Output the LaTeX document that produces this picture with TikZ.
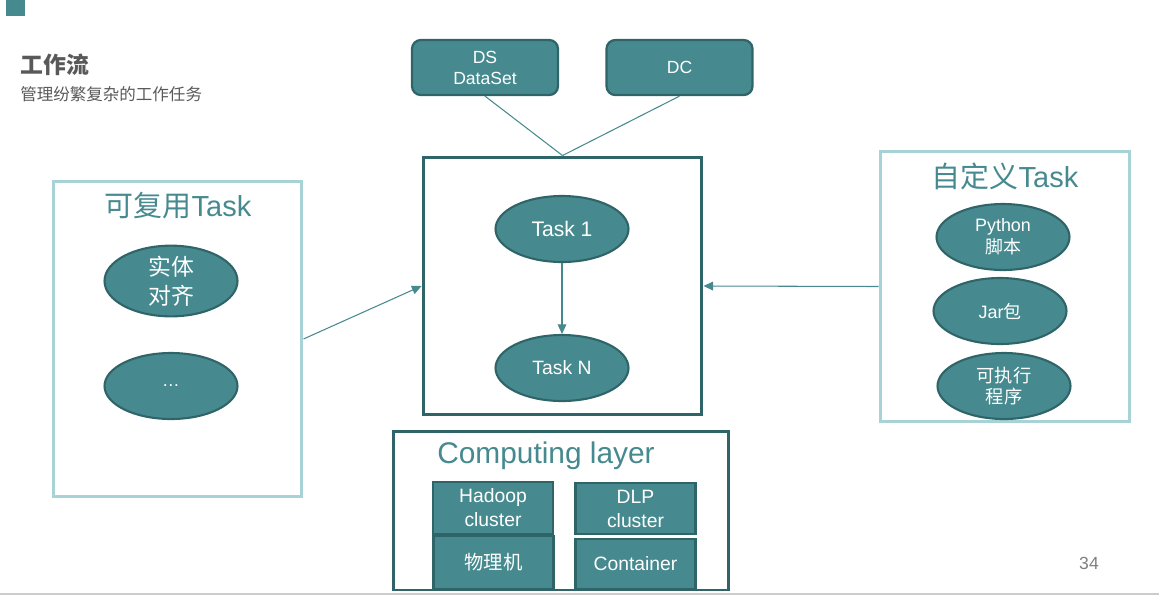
\documentclass[tikz,border=0pt]{standalone}
\usepackage{fontspec}
\setmainfont{Liberation Sans}
\newfontfamily\cjk{Noto Sans CJK SC}
\usetikzlibrary{positioning}
\usetikzlibrary{arrows.meta}
\usetikzlibrary{shapes.geometric}
\definecolor{teal}{HTML}{468A8F}
\definecolor{darkteal}{HTML}{2F6569}
\definecolor{lightteal}{HTML}{A8D3D6}
\definecolor{slidegray}{HTML}{595959}
\tikzset {
  x=0.02cm, y=-0.02cm,
  >={Triangle[length=5.5pt, width=5pt]},
  % task ellipses
  task/.style = {draw=darkteal, fill=teal, ellipse, line width=1.2pt, text=white,
    minimum width=2.66cm, minimum height=1.32cm, align=center, inner sep=0pt},
  % data boxes on top
  data/.style = {draw=darkteal, fill=teal, rounded corners=5pt, line width=1.3pt, text=white,
    minimum width=2.92cm, minimum height=1.1cm, align=center,
    font=\fontsize{10}{12}\selectfont},
  % boxes of the computing layer
  cluster/.style = {draw=darkteal, fill=teal, line width=1.3pt, text=white,
    minimum width=2.4cm, minimum height=1.03cm, align=center,
    font=\fontsize{11}{13.6}\selectfont},
  % outer panels
  panel/.style = {draw=lightteal, line width=1.7pt},
  frame/.style = {draw=darkteal, line width=1.7pt, fill=white},
  heading/.style = {text=teal, font=\fontsize{16.5}{18}\selectfont},
  link/.style = {draw=teal, line width=0.6pt},
}
\begin{document}
\begin{tikzpicture}
        \useasboundingbox (0,0) rectangle (1159,596);
        \fill[teal] (6,0) rectangle (25,16);
        \draw[line width=1pt, black!20] (0,594) -- (1159,594);

        \node[anchor=west, inner sep=0pt, text=slidegray, font=\cjk\bfseries\fontsize{13}{15}\selectfont] (title) at (20,65) {工作流};
        \node[anchor=west, inner sep=0pt, text=slidegray, font=\cjk\fontsize{9.4}{11}\selectfont] (subtitle) at (20,94) {管理纷繁复杂的工作任务};
        \node[text=black!50, font=\fontsize{10}{12}\selectfont] (page) at (1089,563) {34};

        % top data boxes
        \node[data] (ds) at (485,67.5) {DS\\DataSet};
        \node[data] (dc) at (679.5,67.5) {DC};

        % workflow
        \node[frame, minimum width=5.58cm, minimum height=5.16cm] (flow) at (562.5,286) {};
        \node[task, font=\fontsize{12}{14}\selectfont] (t1) at (562,229) {Task 1};
        \node[task, font=\fontsize{11}{13}\selectfont] (tn) at (562,368) {Task N};
        \draw [->, link] (t1) -- (tn);

        \draw [link] (ds.south) -- (flow.north);
        \draw [link] (dc.south) -- (flow.north);

        % reusable tasks
        \node[panel, minimum width=4.98cm, minimum height=6.32cm] (reuse) at (177.5,339) {};
        \node[heading] (reusetitle) at (178,206) {{\cjk 可复用}Task};
        \node[task, font=\cjk\fontsize{13}{16.4}\selectfont] (align) at (171,281) {实体\\对齐};
        \node[task, font=\fontsize{10}{12}\selectfont] (more) at (171,386) {\ldots};
        \draw [->, link] (reuse.east) -- (flow.west);

        % custom tasks
        \node[panel, minimum width=5cm, minimum height=5.42cm] (custom) at (1005,286.5) {};
        \node[heading] (customtitle) at (1005,176) {{\cjk 自定义}Task};
        \node[task, font=\fontsize{10.2}{12.5}\selectfont] (python) at (1003,237) {Python\\{\cjk 脚本}};
        \node[task, font=\fontsize{10.2}{12.5}\selectfont] (jar) at (1000,311) {Jar{\cjk 包}};
        \node[task, font=\cjk\fontsize{10.4}{12}\selectfont] (exe) at (1004,386) {可执行\\程序};
        \draw [->, link] (custom.west) -- (flow.east);

        % computing layer
        \node[frame, minimum width=6.72cm, minimum height=3.18cm] (layer) at (561,510.5) {};
        \node[heading, font=\fontsize{17}{19}\selectfont] (layertitle) at (546,456) {Computing layer};
        \node[cluster] (hadoop) at (493,508) {Hadoop\\cluster};
        \node[cluster] (dlp) at (635.5,508.5) {DLP\\cluster};
        \node[cluster, minimum height=1.06cm, font=\cjk\fontsize{11}{13}\selectfont] (phys) at (493.5,562.5) {物理机};
        \node[cluster, minimum height=1cm] (container) at (635.5,564) {Container};
      \end{tikzpicture}
\end{document}
